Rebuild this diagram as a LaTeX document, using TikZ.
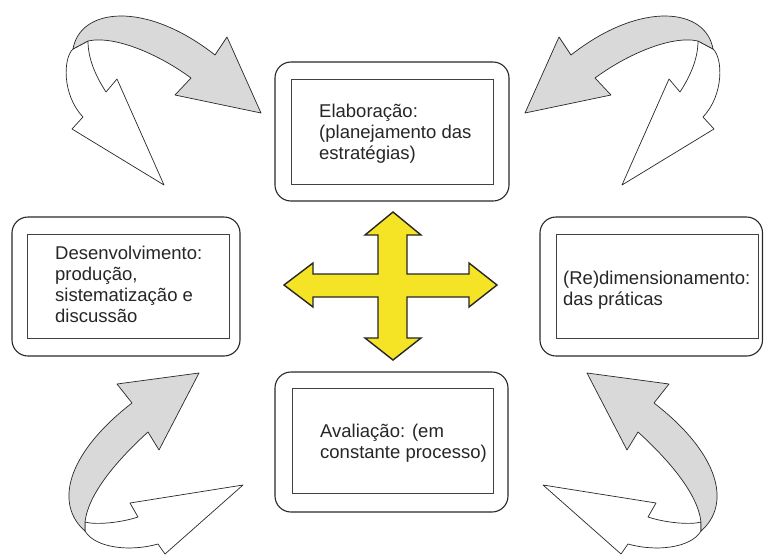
\documentclass[tikz,border=0pt]{standalone}
\usepackage{fontspec}
\setmainfont{Liberation Sans}
\definecolor{arrowgray}{RGB}{217,217,217}
\definecolor{crossyellow}{RGB}{245,228,38}
\definecolor{linedark}{RGB}{40,40,40}
\newcommand\topcurlarrow{%
  \filldraw[backarrow] (73,49) .. controls (63,58) and (62,95) .. (83,117) -- (72,129) -- (164,185) -- (117,79) -- (106,92) .. controls (95,75) and (88,58) .. (88,41) -- cycle;
  \filldraw[ribbon] (73,49) .. controls (80,8) and (145,0) .. (215,55) -- (227,37) -- (261,113) -- (175,95) -- (191,78) .. controls (160,55) and (115,35) .. (88,41) -- cycle;
}
\newcommand\bottomcurlarrow{%
  \filldraw[backarrow] (85,522) .. controls (95,525) and (120,523) .. (138,517) -- (130,503) -- (243,485) -- (165,554) -- (158,544) .. controls (130,552) and (95,548) .. (85,531) -- cycle;
  \filldraw[ribbon] (132,403) -- (117,384) -- (199,373) -- (159,450) -- (148,432) .. controls (115,462) and (88,495) .. (85,522) -- (85,531) .. controls (55,505) and (65,455) .. (132,403) -- cycle;
}
\begin{document}
\begin{tikzpicture}[x=1pt,y=-1pt,
  outerbox/.style={draw=linedark, line width=1.1pt, rounded corners=16pt, inner sep=0pt},
  innerbox/.style={draw=black!75, line width=0.9pt, inner sep=0pt},
  boxtext/.style={anchor=north west, inner sep=0pt, align=left, font=\fontsize{18.5pt}{20.8pt}\selectfont, text=black!85},
  ribbon/.style={fill=arrowgray, draw=linedark, line width=0.7pt, line join=round},
  backarrow/.style={fill=white, draw=linedark, line width=0.7pt, line join=round},
  crossarrow/.style={fill=crossyellow, draw=black!85, line width=1.4pt, line join=miter}]
\useasboundingbox (0,0) rectangle (764,555);
\fill[white] (0,0) rectangle (764,555);

% top box
\node[outerbox, minimum width=234pt, minimum height=139pt] (elabO) at (392,131.5) {};
\node[innerbox, minimum width=202pt, minimum height=105pt] (elabI) at (392,131.5) {};
\node[boxtext] (elabT) at (319,104) {Elaboração:\\(planejamento das\\estratégias)};

% left box
\node[outerbox, minimum width=228pt, minimum height=139pt] (desO) at (126,286.5) {};
\node[innerbox, minimum width=202pt, minimum height=104pt] (desI) at (128,286) {};
\node[boxtext] (desT) at (55,246) {Desenvolvimento:\\produção,\\sistematização e\\discussão};

% right box
\node[outerbox, minimum width=222.5pt, minimum height=139pt] (redO) at (651.25,286.5) {};
\node[innerbox, minimum width=202pt, minimum height=104pt] (redI) at (657,286) {};
\node[boxtext] (redT) at (563,271) {(Re)dimensionamento:\\das práticas};

% bottom box
\node[outerbox, minimum width=233pt, minimum height=140pt] (avaO) at (391.5,442) {};
\node[innerbox, minimum width=201pt, minimum height=105pt] (avaI) at (392.5,440.5) {};
\node[boxtext] (avaT) at (320,424) {Avaliação: (em\\constante processo)};

% central cross
\filldraw[crossarrow] (393,212) -- (421,235) -- (407,235) -- (407,274) -- (469,274) -- (469,263) -- (497,285) -- (469,307) -- (469,297) -- (407,297) -- (407,338) -- (421,338) -- (393,360) -- (365,338) -- (378,338) -- (378,297) -- (313,297) -- (313,307) -- (284,285) -- (313,263) -- (313,274) -- (378,274) -- (378,235) -- (365,235) -- cycle;

% curved arrows
\topcurlarrow
\bottomcurlarrow
\begin{scope}[shift={(786,0)}, xscale=-1]
\topcurlarrow
\bottomcurlarrow
\end{scope}
\end{tikzpicture}
\end{document}
